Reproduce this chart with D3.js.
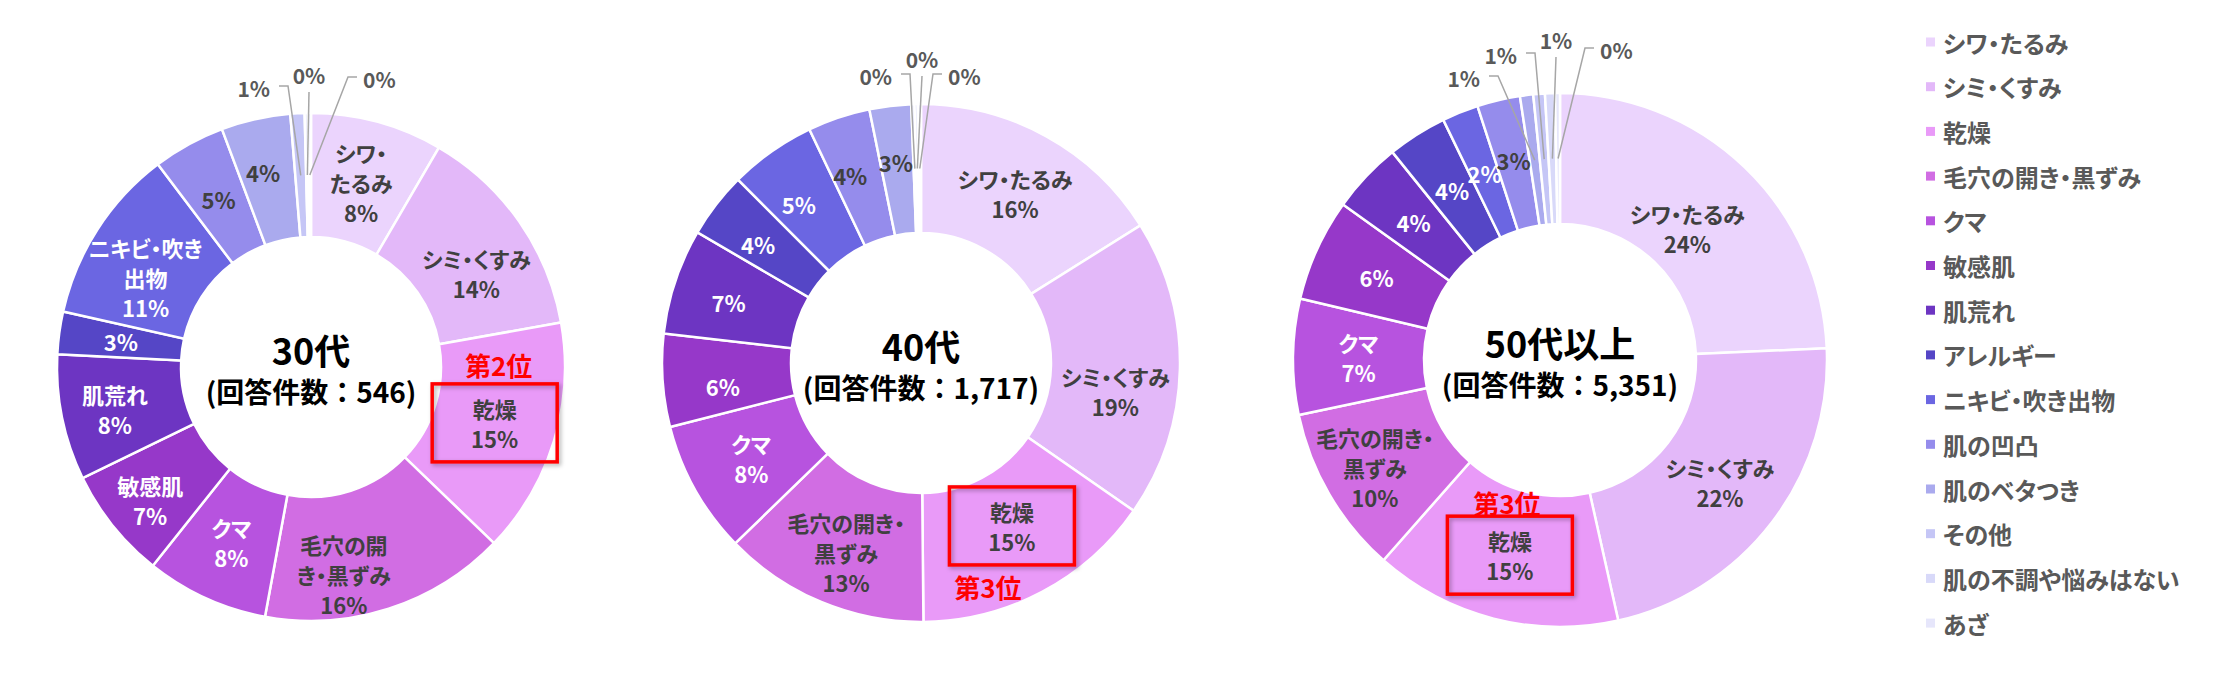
<!DOCTYPE html>
<html><head><meta charset="utf-8">
<script src="https://cdn.jsdelivr.net/npm/d3@7"></script>
<style>
body{margin:0;background:#fff;}
text{font-family:"Noto Sans CJK JP","Noto Sans",sans-serif;font-weight:700;}
.palt{font-feature-settings:"palt" 1;}
</style>
</head><body>
<svg id="c" width="2213" height="685"></svg>
<script>
// ---------- data ----------
const categories = ["シワ・たるみ","シミ・くすみ","乾燥","毛穴の開き・黒ずみ","クマ","敏感肌","肌荒れ","アレルギー","ニキビ・吹き出物","肌の凹凸","肌のベタつき","その他","肌の不調や悩みはない","あざ"];
const colors = ["#EBD4FD","#E3B8F9","#E99AF8","#D16DE3","#B753DF","#9638C9","#6D35C2","#5546C6","#6B66E2","#958CEC","#AAAAEE","#C5C6F6","#D8D9F9","#E6E6FB"];
const darkText = [true,true,true,true,false,false,false,false,false,true,true,true,true,true];
const groupNames = ["30代","40代","50代以上"];
const responseCounts = ["546","1,717","5,351"];
const values30s = [8.4,13.8,15.0,15.7,7.8,7.1,8.0,2.7,11.2,4.6,4.4,0.9,0.2,0.2];
const values40s = [16.1,18.6,15.2,12.9,8.3,5.8,6.6,4.1,5.4,3.9,2.6,0.2,0.2,0.2];
const values50s = [24.3,22.2,15.0,10.2,7.0,6.2,4.3,3.6,2.2,2.6,0.8,0.7,0.6,0.3];
const sliceLabels30s = ["シワ・|たるみ","シミ・くすみ","乾燥","毛穴の開|き・黒ずみ","クマ","敏感肌","肌荒れ","","ニキビ・吹き|出物","","","","",""];
const sliceLabels40s = ["シワ・たるみ","シミ・くすみ","乾燥","毛穴の開き・|黒ずみ","クマ","","","","","","","","",""];
const sliceLabels50s = ["シワ・たるみ","シミ・くすみ","乾燥","毛穴の開き・|黒ずみ","クマ","","","","","","","","",""];
const rankLabels = ["第2位","第3位","第3位"];
const highlightIndex = 2;

// ---------- layout ----------
const layout = [
  {cx:311, cy:367, R:254, r:130,
   nudge:{1:[8,16],3:[-26,24],5:[-11,13],6:[-8,4],8:[-4,14],10:[-6,-8]},
   outside:[{i:11,side:"left",x:-41,y:-279},{i:12,side:"top",x:-2,y:-292},{i:13,side:"right",x:52,y:-288}],
   rank:[4,-58]},
  {cx:921, cy:363, R:259, r:130,
   nudge:{1:[0,23],2:[0,-9],3:[0,10],5:[-4,10],6:[-8,0],7:[-9,0],8:[-10,0],9:[-9,-4],10:[-2,-8]},
   outside:[{i:11,side:"left",x:-29,y:-287},{i:12,side:"top",x:1,y:-304},{i:13,side:"right",x:27,y:-287}],
   rank:[-24,61]},
  {cx:1560, cy:360, R:267, r:136,
   nudge:{0:[-12,14],3:[-11,6],9:[0,-4]},
   outside:[{i:10,side:"left",x:-80,y:-282},{i:11,side:"left",x:-43,y:-305},{i:12,side:"top",x:-4,y:-320},{i:13,side:"right",x:40,y:-310}],
   rank:[-3,-53]}
];
const allValues = [values30s, values40s, values50s];
const allLabels = [sliceLabels30s, sliceLabels40s, sliceLabels50s];

const svg = d3.select("#c");
const defs = svg.append("defs");
const f = defs.append("filter").attr("id","sh").attr("x","-20%").attr("y","-20%").attr("width","140%").attr("height","140%");
f.append("feDropShadow").attr("dx",2).attr("dy",2).attr("stdDeviation",2).attr("flood-color","#000").attr("flood-opacity",0.3);

const pie = d3.pie().sort(null).value(d => d);
const lineH = 30;

layout.forEach((L, k) => {
  const vals = allValues[k];
  const labs = allLabels[k];
  const g = svg.append("g").attr("transform", `translate(${L.cx},${L.cy})`);
  const arcs = pie(vals);
  const arc = d3.arc().innerRadius(L.r).outerRadius(L.R);
  const rm = (L.r + L.R) / 2;
  const mid = d3.arc().innerRadius(rm).outerRadius(rm);

  g.selectAll("path.s").data(arcs).join("path")
    .attr("class","s")
    .attr("d", arc)
    .attr("fill", (d,i) => colors[i])
    .attr("stroke", "#fff")
    .attr("stroke-width", 2.5);

  const outsideIdx = L.outside.map(o => o.i);

  // inside labels
  arcs.forEach((d, i) => {
    if (outsideIdx.includes(i)) return;
    const c = mid.centroid(d);
    const n = L.nudge[i] || [0,0];
    const x = c[0] + n[0], y = c[1] + n[1];
    const lines = (labs[i] ? labs[i].split("|") : []).concat([Math.round(d.value) + "%"]);
    const col = darkText[i] ? "#404040" : "#ffffff";
    const t = g.append("text").attr("class","palt").attr("text-anchor","middle").attr("font-size",22).attr("fill",col);
    lines.forEach((s, j) => {
      t.append("tspan").attr("x", x).attr("y", y + (j - (lines.length-1)/2) * lineH)
        .attr("dominant-baseline","central").text(s);
    });
    if (i === highlightIndex) {
      const bw = 125, bh = 78;
      g.append("rect").attr("x", x - bw/2).attr("y", y - bh/2).attr("width", bw).attr("height", bh)
        .attr("fill","none").attr("stroke","#FF0000").attr("stroke-width",3.5).attr("filter","url(#sh)");
      g.append("text").attr("x", x + L.rank[0]).attr("y", y + L.rank[1])
        .attr("text-anchor","middle").attr("dominant-baseline","central")
        .attr("font-size",26).attr("fill","#FF0000").text(rankLabels[k]);
    }
  });

  // outside labels with leader lines
  L.outside.forEach(o => {
    const d = arcs[o.i];
    const c = mid.centroid(d);
    let pts, anchor;
    if (o.side === "left") { pts = [[o.x+9, o.y-2],[o.x+18, o.y-2], c]; anchor = "end"; }
    else if (o.side === "right") { pts = [[o.x-6, o.y-2],[o.x-15, o.y-2], c]; anchor = "start"; }
    else { pts = [[o.x, o.y+17], c]; anchor = "middle"; }
    g.append("path").attr("d", d3.line()(pts)).attr("fill","none").attr("stroke","#A6A6A6").attr("stroke-width",1.5);
    g.append("text").attr("x", o.x).attr("y", o.y).attr("text-anchor", anchor)
      .attr("dominant-baseline","central").attr("font-size",21).attr("fill","#595959")
      .text(Math.round(d.value) + "%");
  });

  // center text
  g.append("text").attr("x",0).attr("y",-18).attr("text-anchor","middle").attr("dominant-baseline","central")
    .attr("font-size",36).attr("fill","#000").text(groupNames[k]);
  g.append("text").attr("x",0).attr("y",24).attr("text-anchor","middle").attr("dominant-baseline","central")
    .attr("font-size",28).attr("fill","#000").text("(回答件数：" + responseCounts[k] + ")");
});

// legend
const lg = svg.append("g").attr("transform","translate(1926,42)");
const ly = d3.scalePoint().domain(categories).range([0, 13*44.7]);
categories.forEach((c, i) => {
  lg.append("rect").attr("x",0).attr("y", ly(c) - 4.5).attr("width",9).attr("height",9).attr("fill", colors[i]);
  lg.append("text").attr("class","palt").attr("x",17).attr("y", ly(c)).attr("dominant-baseline","central")
    .attr("font-size",24).attr("fill","#595959").text(c);
});
</script>
</body></html>
